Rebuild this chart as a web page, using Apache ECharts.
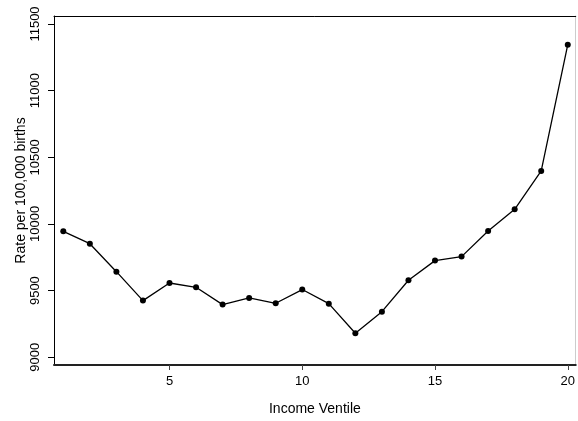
<!DOCTYPE html>
<html>
<head>
<meta charset="utf-8">
<script src="https://cdn.jsdelivr.net/npm/echarts@6/dist/echarts.min.js"></script>
<style>
html,body{margin:0;padding:0;background:#fff;}
#chart{width:578px;height:421px;}
</style>
</head>
<body>
<div id="chart"></div>
<script>
var ventiles = [1,2,3,4,5,6,7,8,9,10,11,12,13,14,15,16,17,18,19,20];
var rates = [9945,9852,9642,9425,9557,9525,9395,9445,9405,9508,9402,9180,9342,9578,9725,9755,9947,10110,10398,11345];
var xTicks = [5,10,15,20];
var yTicks = [9000,9500,10000,10500,11000,11500];

var chart = echarts.init(document.getElementById('chart'), null, {renderer:'canvas'});
var font = 'Liberation Sans, Arial, Helvetica, sans-serif';
var seriesData = ventiles.map(function(v,i){return [v, rates[i]];});
var plain = function(v){return String(v);};
chart.setOption({
  animation:false,
  backgroundColor:'#fff',
  grid:{left:54,right:1,top:16,bottom:56},
  xAxis:[{
    type:'value', min:0.65, max:20.3, position:'bottom',
    axisLine:{show:true,onZero:false,lineStyle:{color:'#222',width:2}},
    axisTick:{show:true,length:5,lineStyle:{color:'#444'},customValues:xTicks},
    axisLabel:{color:'#000',fontSize:13,fontFamily:font,margin:10,customValues:xTicks,formatter:plain},
    splitLine:{show:false},
    name:'Income Ventile', nameLocation:'middle', nameGap:37, nameMoveOverlap:false,
    nameTextStyle:{color:'#000',fontSize:14,fontFamily:font}
  },{
    type:'value', min:0.65, max:20.3, position:'top',
    axisLine:{show:true,onZero:false,lineStyle:{color:'#000',width:1}},
    axisTick:{show:false}, axisLabel:{show:false}, splitLine:{show:false}
  }],
  yAxis:[{
    type:'value', min:8942, max:11560, position:'left',
    axisLine:{show:true,onZero:false,lineStyle:{color:'#000',width:1}},
    axisTick:{show:true,length:6,lineStyle:{color:'#000'},customValues:yTicks},
    axisLabel:{color:'#000',fontSize:13,fontFamily:font,rotate:90,margin:12,customValues:yTicks,formatter:plain},
    splitLine:{show:false},
    name:'Rate per 100,000 births', nameLocation:'middle', nameGap:26, nameRotate:90, nameMoveOverlap:false,
    nameTextStyle:{color:'#000',fontSize:14,fontFamily:font}
  },{
    type:'value', min:8942, max:11560, position:'right',
    axisLine:{show:true,onZero:false,lineStyle:{color:'#ccc',width:1}},
    axisTick:{show:false}, axisLabel:{show:false}, splitLine:{show:false}
  }],
  series:[{
    type:'line', data:seriesData, xAxisIndex:0, yAxisIndex:0,
    symbol:'circle', symbolSize:6,
    itemStyle:{color:'#000'},
    lineStyle:{color:'#000',width:1.3}
  }]
});
</script>
</body>
</html>
